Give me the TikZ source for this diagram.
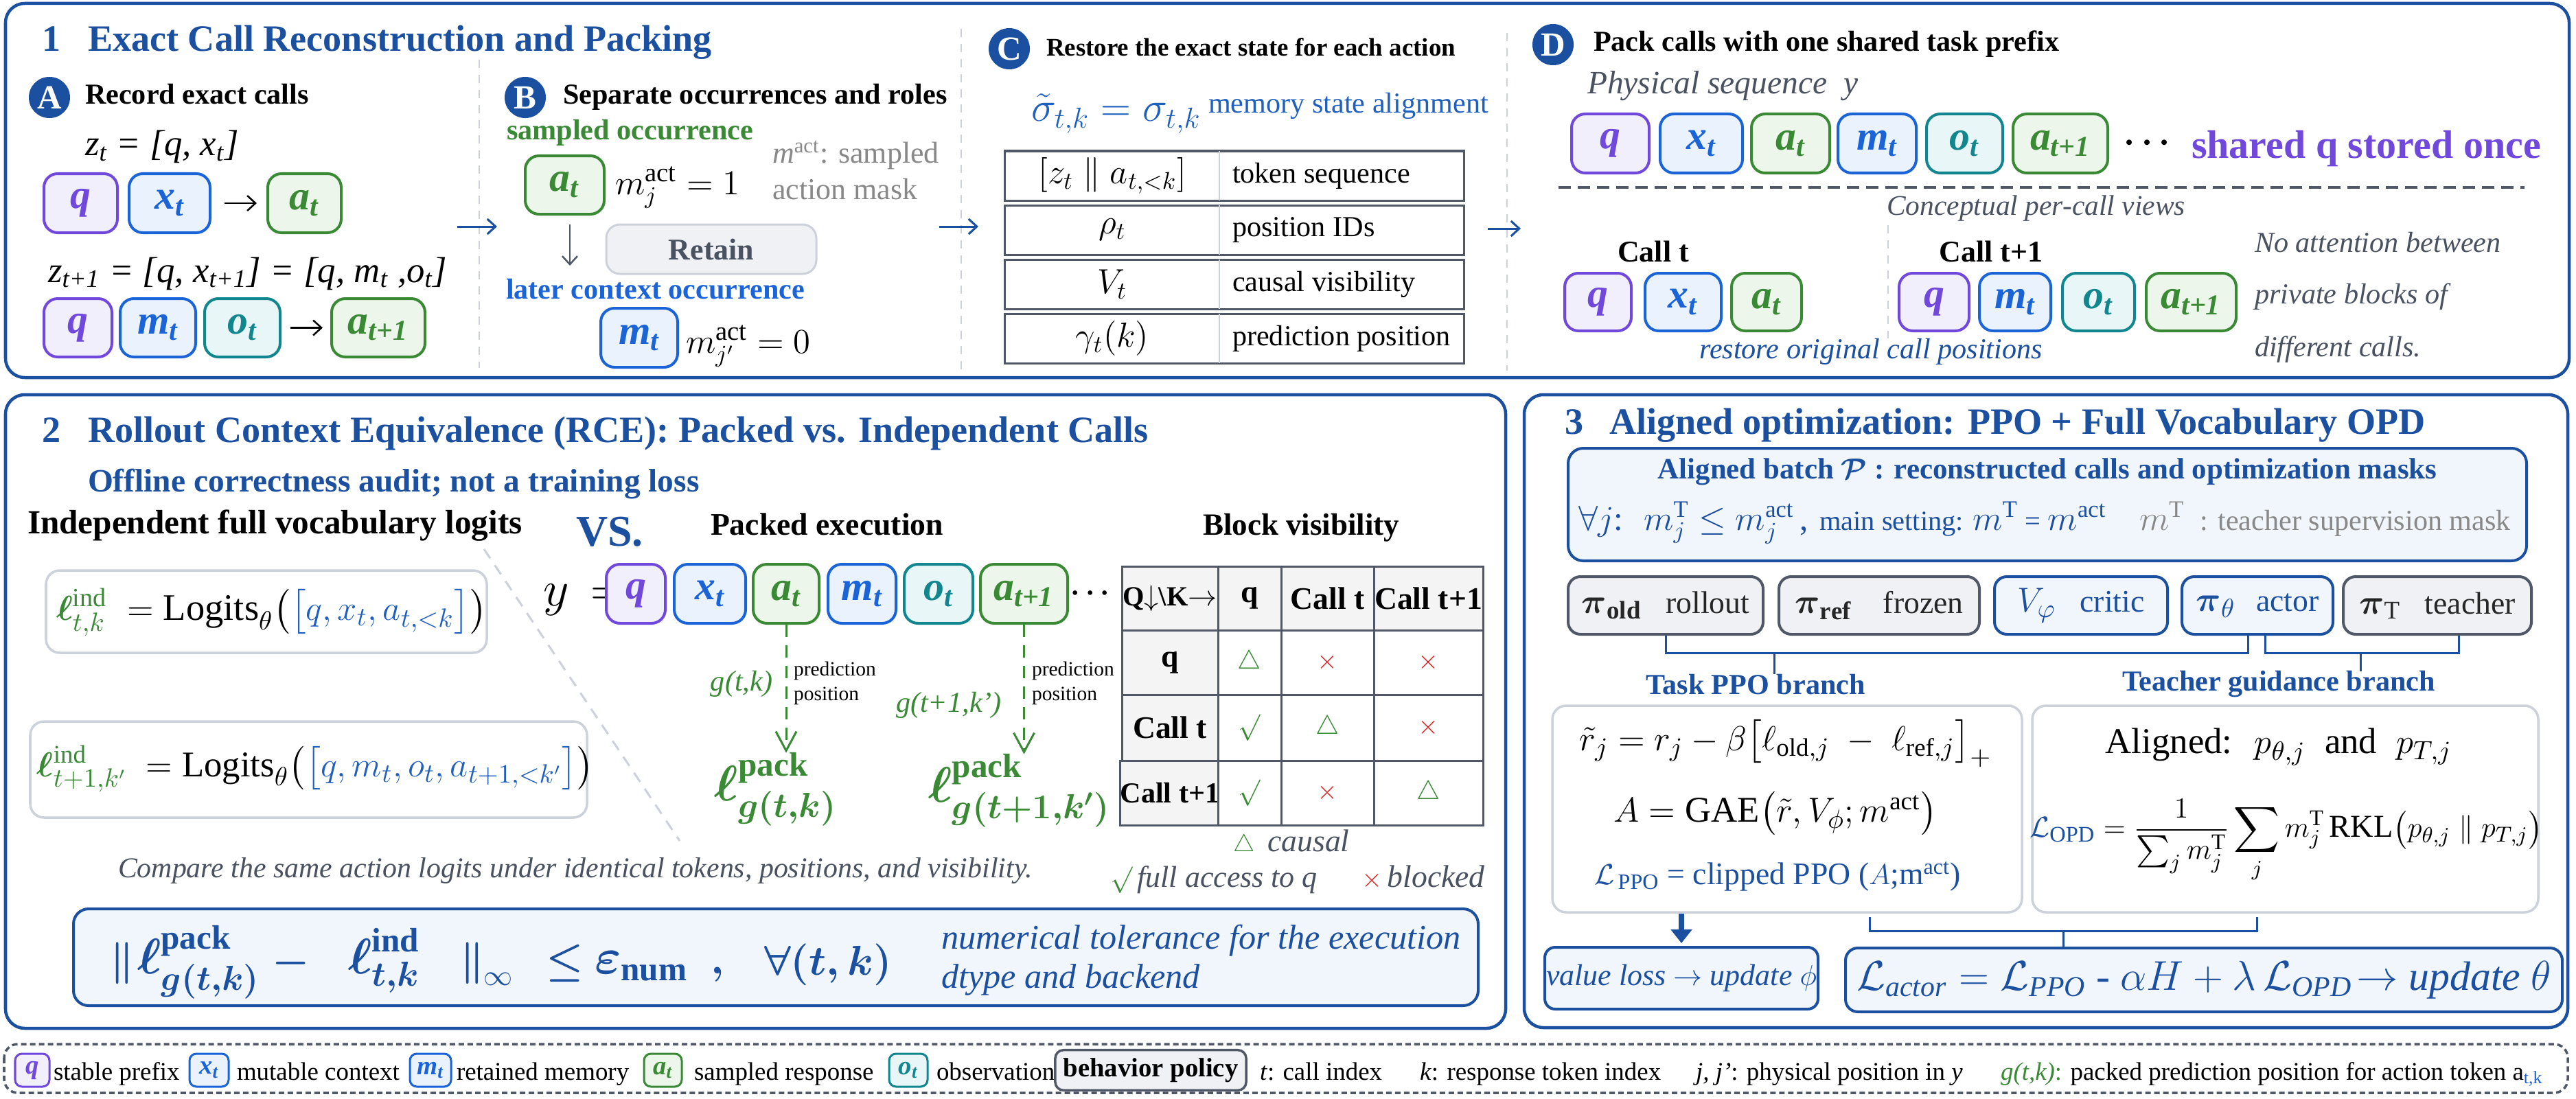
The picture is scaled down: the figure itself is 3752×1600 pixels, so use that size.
\documentclass[tikz,border=0pt]{standalone}
\usepackage{amsmath,amssymb}
\usepackage{fontspec}
\setmainfont{Liberation Serif}
\usetikzlibrary{arrows.meta,calc}
\definecolor{mblue}{RGB}{27,79,160}
\definecolor{cb2}{RGB}{31,95,190}
\definecolor{cq}{RGB}{112,72,220}
\definecolor{cqf}{RGB}{242,239,252}
\definecolor{cx}{RGB}{26,100,216}
\definecolor{cxf}{RGB}{234,242,253}
\definecolor{ca}{RGB}{58,138,53}
\definecolor{caf}{RGB}{237,246,234}
\definecolor{co}{RGB}{18,134,143}
\definecolor{cof}{RGB}{232,246,247}
\definecolor{gtext}{RGB}{74,81,96}
\definecolor{gmid}{RGB}{136,136,136}
\definecolor{lgray}{RGB}{205,210,218}
\definecolor{dgray}{RGB}{80,88,104}
\definecolor{lbluef}{RGB}{241,246,253}
\definecolor{grayf}{RGB}{240,241,244}
\definecolor{hgray}{RGB}{244,244,244}
\definecolor{cred}{RGB}{220,40,40}
\newcommand\fs[1]{\fontsize{#1}{#1}\selectfont}
\newcommand\TB[7][]{\node[#1, minimum width={(#5-#3)*0.01cm}, minimum height={(#6-#4)*0.01cm}] (#2) at ({(#3+#5)/2},{(#4+#6)/2}) {#7};}
\tikzset{
  panel/.style={draw=mblue, line width=0.045cm, rounded corners=0.28cm},
  txt/.style={inner sep=0pt, outer sep=0pt},
  tok/.style={rounded corners=0.2cm, line width=0.04cm, inner sep=0pt, font=\fs{17}\bfseries\itshape},
  tokq/.style={tok, draw=cq, fill=cqf, text=cq},
  tokx/.style={tok, draw=cx, fill=cxf, text=cx},
  toka/.style={tok, draw=ca, fill=caf, text=ca},
  toko/.style={tok, draw=co, fill=cof, text=co},
  circ/.style={circle, fill=mblue, text=white, minimum size=0.6cm, inner sep=0pt, font=\fs{14}\bfseries},
  sepline/.style={draw=lgray, line width=0.025cm, dash pattern=on 0.12cm off 0.1cm},
  bluearr/.style={draw=mblue, line width=0.03cm, -{Straight Barb[length=0.12cm,width=0.22cm]}},
  blkarr/.style={draw=black, line width=0.025cm, -{Straight Barb[length=0.12cm,width=0.22cm]}},
  gryarr/.style={draw=dgray, line width=0.025cm, -{Straight Barb[length=0.12cm,width=0.22cm]}},
  garr/.style={draw=ca, line width=0.03cm, dash pattern=on 0.18cm off 0.12cm, -{Straight Barb[length=0.28cm,width=0.3cm]}},
  rowbox/.style={draw=dgray, line width=0.03cm, inner sep=0pt},
  divl/.style={draw=lgray, line width=0.02cm},
  hcell/.style={draw=dgray, fill=hgray, line width=0.03cm, inner sep=0pt, font=\fs{13}\bfseries},
  cell/.style={draw=dgray, fill=white, line width=0.03cm, inner sep=0pt, font=\fs{11}},
  lbox/.style={draw=lgray, fill=white, line width=0.035cm, rounded corners=0.2cm, inner sep=0pt},
  bbox/.style={draw=mblue, fill=lbluef, line width=0.04cm, rounded corners=0.22cm, inner sep=0pt},
  pgray/.style={draw=dgray, fill=grayf, line width=0.04cm, rounded corners=0.18cm, inner sep=0pt, text=black!85, font=\fs{13}},
  pblue/.style={draw=mblue, fill=lbluef, line width=0.04cm, rounded corners=0.18cm, inner sep=0pt, text=mblue, font=\fs{13}},
  brk/.style={draw=mblue, line width=0.03cm},
  title/.style={txt, anchor=base west, font=\fs{15.4}\bfseries, text=mblue},
  head/.style={txt, anchor=base west, font=\fs{12}\bfseries, text=black},
  lg/.style={txt, anchor=base west, font=\fs{10.5}},
  ltok/.style={font=\fs{11}\bfseries\itshape, rounded corners=0.1cm, line width=0.03cm},
}
\begin{document}
\begin{tikzpicture}[x=0.01cm,y=-0.01cm]
\useasboundingbox (0,0) rectangle (3752,1600);
\fill[white] (0,0) rectangle (3752,1600);

%================ PANEL 1 ================
\draw[panel] (8,5) rectangle (3742,550);
\node[title] (t1n) at (61,75) {1};
\node[title] (t1) at (128,75) {Exact Call Reconstruction and Packing};
\draw[sepline] (698,87) -- (698,536);
\draw[sepline] (1400,42) -- (1400,540);
\draw[sepline] (2195,48) -- (2195,540);
\coordinate (s1a) at (666,330); \coordinate (s1b) at (724,330);
\coordinate (s2a) at (1368,330); \coordinate (s2b) at (1425,330);
\coordinate (s3a) at (2167,333); \coordinate (s3b) at (2215,333);
\draw[bluearr] (s1a) -- (s1b);
\draw[bluearr] (s2a) -- (s2b);
\draw[bluearr] (s3a) -- (s3b);

% --- A
\node[circ] (cA) at (72,142) {A};
\node[head] (hA) at (124,152) {Record exact calls};
\node[txt, anchor=base west, font=\fs{15}\itshape] (zA1) at (124,227) {z\textsubscript{t} = [q, x\textsubscript{t}]};
\TB[tokq]{Aq1}{64}{253}{171}{339}{q}
\TB[tokx]{Ax1}{188}{253}{306}{339}{x\textsubscript{t}}
\TB[toka]{Aa1}{390}{253}{497}{339}{a\textsubscript{t}}
\draw[blkarr, shorten <=0.19cm, shorten >=0.14cm] (Ax1) -- (Aa1);
\node[txt, anchor=base west, font=\fs{15}\itshape] (zA2) at (70,411) {z\textsubscript{t+1} = [q, x\textsubscript{t+1}] = [q, m\textsubscript{t} ,o\textsubscript{t}]};
\TB[tokq]{Aq2}{64}{435}{163}{520}{q}
\TB[tokx]{Am2}{175}{435}{285}{520}{m\textsubscript{t}}
\TB[toko]{Ao2}{298}{435}{408}{520}{o\textsubscript{t}}
\TB[toka]{Aa2}{483}{435}{619}{520}{a\textsubscript{t+1}}
\draw[blkarr, shorten <=0.13cm, shorten >=0.11cm] (Ao2) -- (Aa2);

% --- B
\node[circ] (cB) at (765,142) {B};
\node[head] (hB) at (820,152) {Separate occurrences and roles};
\node[txt, anchor=base west, font=\fs{12}\bfseries, text=ca] (sampB) at (738,203) {sampled occurrence};
\TB[toka]{Ba}{765}{227}{880}{312}{a\textsubscript{t}}
\node[txt, anchor=base west, font=\fs{14}] (mB1) at (896,283) {$m_j^{\hbox{\fs{11}act}} = 1$};
\node[txt, anchor=base west, font=\fs{12.5}, text=gmid] (mactB1) at (1125,238) {\textit{m}\textsuperscript{act}: sampled};
\node[txt, anchor=base west, font=\fs{12.5}, text=gmid] (mactB2) at (1125,290) {action mask};
\coordinate (Bd1) at (830,327); \coordinate (Bd2) at (830,387);
\draw[gryarr] (Bd1) -- (Bd2);
\TB[draw=lgray, fill=grayf, line width=0.03cm, rounded corners=0.2cm, font=\fs{12.5}\bfseries, text=gtext]{Bret}{883}{327}{1189}{399}{Retain}
\node[txt, anchor=base west, font=\fs{12}\bfseries, text=cx] (laterB) at (737,435) {later context occurrence};
\TB[tokx]{Bm}{875}{449}{987}{535}{m\textsubscript{t}}
\node[txt, anchor=base west, font=\fs{14}] (mB2) at (999,514) {$m_{j'}^{\hbox{\fs{11}act}} = 0$};

% --- C
\node[circ] (cC) at (1470,71) {C};
\node[txt, anchor=base west, font=\fs{10.5}\bfseries] (hC) at (1524,82) {Restore the exact state for each action};
\node[txt, anchor=base west, font=\fs{18}, text=cb2] (sigC) at (1502,177) {$\tilde{\sigma}_{t,k} = \sigma_{t,k}$};
\node[txt, anchor=base west, font=\fs{12}, text=cb2] (memC) at (1760,165) {memory state alignment};
\TB[rowbox]{C1}{1463}{220}{2132}{292}{}
\TB[rowbox]{C2}{1463}{299}{2132}{371}{}
\TB[rowbox]{C3}{1463}{378}{2132}{450}{}
\TB[rowbox]{C4}{1463}{457}{2132}{529}{}
\draw[divl] (1776,220) -- (1776,292);
\draw[divl] (1776,299) -- (1776,371);
\draw[divl] (1776,378) -- (1776,450);
\draw[divl] (1776,457) -- (1776,529);
\node[txt, font=\fs{14}] (C1l) at (1620,256) {$\left[z_t \parallel a_{t,<k}\right]$};
\node[txt, font=\fs{14}] (C2l) at (1620,335) {$\rho_t$};
\node[txt, font=\fs{14}] (C3l) at (1620,414) {$V_t$};
\node[txt, font=\fs{14}] (C4l) at (1620,493) {$\gamma_t(k)$};
\node[txt, anchor=west, font=\fs{12}] (C1r) at (1795,256) {token sequence};
\node[txt, anchor=west, font=\fs{12}] (C2r) at (1795,335) {position IDs};
\node[txt, anchor=west, font=\fs{12}] (C3r) at (1795,414) {causal visibility};
\node[txt, anchor=west, font=\fs{12}] (C4r) at (1795,493) {prediction position};

% --- D
\node[circ] (cD) at (2262,65) {D};
\node[head] (hD) at (2321,75) {Pack calls with one shared task prefix};
\node[txt, anchor=base west, font=\fs{13.5}\itshape, text=gtext] (physD) at (2312,137) {Physical sequence~~y};
\TB[tokq]{Dq}{2289}{166}{2402}{252}{q}
\TB[tokx]{Dx}{2418}{166}{2538}{252}{x\textsubscript{t}}
\TB[toka]{Da}{2551}{166}{2665}{252}{a\textsubscript{t}}
\TB[tokx]{Dm}{2677}{166}{2791}{252}{m\textsubscript{t}}
\TB[toko]{Do}{2806}{166}{2917}{252}{o\textsubscript{t}}
\TB[toka]{Da1}{2932}{166}{3070}{252}{a\textsubscript{t+1}}
\node[txt, font=\fs{14}] (Ddots) at (3132,209) {$\boldsymbol{\cdots}$};
\node[txt, anchor=base west, font=\fs{16.5}\bfseries, text=cq] (sharedD) at (3192,230) {shared q stored once};
\coordinate (Dl1) at (2270,273); \coordinate (Dl2) at (3677,273);
\draw[draw=dgray, line width=0.035cm, dash pattern=on 0.18cm off 0.1cm] (Dl1) -- (Dl2);
\node[txt, anchor=base west, font=\fs{11.8}\itshape, text=gtext] (concD) at (2748,313) {Conceptual per-call views};
\draw[sepline] (2750,328) -- (2750,493);
\node[txt, font=\fs{12.5}\bfseries] (callt) at (2408,366) {Call t};
\node[txt, font=\fs{12.5}\bfseries] (callt1) at (2900,366) {Call t+1};
\TB[tokq]{Eq}{2279}{398}{2376}{482}{q}
\TB[tokx]{Ex}{2396}{398}{2507}{482}{x\textsubscript{t}}
\TB[toka]{Ea}{2522}{398}{2624}{482}{a\textsubscript{t}}
\TB[tokq]{Fq}{2766}{398}{2868}{482}{q}
\TB[tokx]{Fm}{2883}{398}{2987}{482}{m\textsubscript{t}}
\TB[toko]{Fo}{3004}{398}{3109}{482}{o\textsubscript{t}}
\TB[toka]{Fa}{3126}{398}{3257}{482}{a\textsubscript{t+1}}
\node[txt, anchor=base, font=\fs{12}\itshape, text=mblue] (restD) at (2725,522) {restore original call positions};
\node[txt, anchor=base west, font=\fs{12}\itshape, text=gtext] (noat1) at (3284,367) {No attention between};
\node[txt, anchor=base west, font=\fs{12}\itshape, text=gtext] (noat2) at (3284,442) {private blocks of};
\node[txt, anchor=base west, font=\fs{12}\itshape, text=gtext] (noat3) at (3284,519) {different calls.};

%================ PANEL 2 ================
\draw[panel] (8,575) rectangle (2193,1498);
\node[title] (t2n) at (61,644) {2};
\node[title] (t2) at (128,644) {Rollout Context Equivalence (RCE): Packed vs. Independent Calls};
\node[txt, anchor=base west, font=\fs{13.5}\bfseries, text=mblue] (offl) at (128,716) {Offline correctness audit; not a training loss};
\node[txt, anchor=base west, font=\fs{14}\bfseries] (indep) at (40,777) {Independent full vocabulary logits};
\node[txt, anchor=base west, font=\fs{18.2}\bfseries, text=mblue] (vs) at (839,795) {VS.};
\node[txt, anchor=base west, font=\fs{13}\bfseries] (packex) at (1035,779) {Packed execution};
\node[txt, anchor=base west, font=\fs{12.8}\bfseries] (blockv) at (1752,779) {Block visibility};
\TB[lbox]{ind1}{67}{831}{709}{951}{}
\node[txt, anchor=west, font=\fs{15.5}] (ind1f) at (82,892) {{\color{ca}$\boldsymbol{\ell}^{\mathrm{ind}}_{t,k}$}\; $=\mathrm{Logits}_{\theta}\bigl({\color{cb2}\bigl[q, x_t, a_{t,<k}\bigr]}\bigr)$};
\TB[lbox]{ind2}{44}{1051}{855}{1191}{}
\node[txt, anchor=west, font=\fs{15}] (ind2f) at (54,1120) {{\color{ca}$\boldsymbol{\ell}^{\mathrm{ind}}_{t+1,k'}$}\; $=\mathrm{Logits}_{\theta}\bigl({\color{cb2}\bigl[q, m_t, o_t, a_{t+1,<k'}\bigr]}\bigr)$};
\coordinate (dg1) at (705,800); \coordinate (dg2) at (990,1225);
\draw[draw=lgray, line width=0.03cm, dash pattern=on 0.16cm off 0.12cm] (dg1) -- (dg2);
\node[txt, anchor=base west, font=\fs{20}] (yeq) at (791,882) {$y\, =$};
\TB[tokq]{Pq}{883}{822}{969}{908}{q}
\TB[tokx]{Px}{982}{822}{1086}{908}{x\textsubscript{t}}
\TB[toka]{Pa}{1097}{822}{1193}{908}{a\textsubscript{t}}
\TB[tokx]{Pm}{1206}{822}{1305}{908}{m\textsubscript{t}}
\TB[toko]{Po}{1317}{822}{1417}{908}{o\textsubscript{t}}
\TB[toka]{Pa1}{1428}{822}{1555}{908}{a\textsubscript{t+1}}
\node[txt, font=\fs{12}] (Pdots) at (1592,864) {$\boldsymbol{\cdots}$};
\node[txt, font=\fs{20}, text=ca] (lp1) at (1130,1150) {$\boldsymbol{\ell}^{\mathbf{pack}}_{\boldsymbol{g(t,k)}}$};
\node[txt, font=\fs{20}, text=ca] (lp2) at (1485,1152) {$\boldsymbol{\ell}^{\mathbf{pack}}_{\boldsymbol{g(t+1,k')}}$};
\draw[garr] (Pa.south) -- (Pa.south |- lp1.north);
\draw[garr] (Pa1.south) -- (Pa1.south |- lp2.north);
\node[txt, anchor=base west, font=\fs{8.4}] (pp1a) at (1156,984) {prediction};
\node[txt, anchor=base west, font=\fs{8.4}] (pp1b) at (1156,1020) {position};
\node[txt, anchor=base west, font=\fs{8.4}] (pp2a) at (1503,984) {prediction};
\node[txt, anchor=base west, font=\fs{8.4}] (pp2b) at (1503,1020) {position};
\node[txt, font=\fs{12}\itshape, text=ca] (g1) at (1080,996) {g(t,k)};
\node[txt, font=\fs{12}\itshape, text=ca] (g2) at (1382,1027) {g(t+1,k')};
% block visibility table
\TB[hcell, font=\fs{11.5}\bfseries]{bv00}{1634}{825}{1774}{918}{Q$\downarrow$\textbackslash K$\rightarrow$}
\TB[hcell]{bv01}{1774}{825}{1866}{918}{q}
\TB[hcell]{bv02}{1866}{825}{2001}{918}{Call t}
\TB[hcell]{bv03}{2001}{825}{2160}{918}{Call t+1}
\TB[hcell]{bv10}{1634}{918}{1774}{1012}{q}
\TB[cell]{bv11}{1774}{918}{1866}{1012}{\color{ca}$\triangle$}
\TB[cell]{bv12}{1866}{918}{2001}{1012}{\color{cred}$\times$}
\TB[cell]{bv13}{2001}{918}{2160}{1012}{\color{cred}$\times$}
\TB[hcell]{bv20}{1634}{1012}{1774}{1108}{Call t}
\TB[cell]{bv21}{1774}{1012}{1866}{1108}{\color{ca}$\surd$}
\TB[cell]{bv22}{1866}{1012}{2001}{1108}{\color{ca}$\triangle$}
\TB[cell]{bv23}{2001}{1012}{2160}{1108}{\color{cred}$\times$}
\TB[hcell, font=\fs{12}\bfseries]{bv30}{1634}{1108}{1774}{1202}{Call t+1}
\TB[cell]{bv31}{1774}{1108}{1866}{1202}{\color{ca}$\surd$}
\TB[cell]{bv32}{1866}{1108}{2001}{1202}{\color{cred}$\times$}
\TB[cell]{bv33}{2001}{1108}{2160}{1202}{\color{ca}$\triangle$}
\node[txt, anchor=base west, font=\fs{13}\itshape, text=gtext] (lgc) at (1796,1240) {{\fs{10}\color{ca}$\triangle$}\, causal};
\node[txt, anchor=base west, font=\fs{12.5}\itshape, text=gtext] (lgf) at (1617,1292) {{\fs{11}\color{ca}$\surd$}\,full access to q};
\node[txt, anchor=base west, font=\fs{13}\itshape, text=gtext] (lgb) at (1983,1292) {{\fs{11}\color{cred}$\times$}\,blocked};
\node[txt, anchor=base west, font=\fs{11.9}\itshape, text=gtext] (cmpr) at (172,1278) {Compare the same action logits under identical tokens, positions, and visibility.};
% bottom formula box
\TB[bbox]{fbox}{107}{1324}{2153}{1465}{}
\node[txt, anchor=base west, font=\fs{18}, text=mblue] (fn1) at (160,1418) {$\boldsymbol{\|}$};
\node[txt, anchor=base west, font=\fs{20}, text=mblue] (fl1) at (200,1418) {$\boldsymbol{\ell}^{\mathbf{pack}}_{\boldsymbol{g(t,k)}}$};
\node[txt, anchor=base west, font=\fs{18}, text=mblue] (fmin) at (396,1418) {$\boldsymbol{-}$};
\node[txt, anchor=base west, font=\fs{20}, text=mblue] (fl2) at (507,1418) {$\boldsymbol{\ell}^{\mathbf{ind}}_{\boldsymbol{t,k}}$};
\node[txt, anchor=base west, font=\fs{18}, text=mblue] (fn2) at (670,1418) {$\boldsymbol{\|}_{\infty}$};
\node[txt, anchor=base west, font=\fs{18}, text=mblue] (fle) at (795,1418) {$\boldsymbol{\leq}$};
\node[txt, anchor=base west, font=\fs{20}, text=mblue] (feps) at (866,1418) {$\boldsymbol{\varepsilon}_{\mathbf{num}}$};
\node[txt, anchor=base west, font=\fs{18}, text=mblue] (fcom) at (1035,1418) {$\boldsymbol{,}$};
\node[txt, anchor=base west, font=\fs{18}, text=mblue] (fall) at (1113,1420) {$\boldsymbol{\forall(t,k)}$};
\node[txt, anchor=base west, font=\fs{14.3}\itshape, text=mblue] (tol1) at (1371,1382) {numerical tolerance for the execution};
\node[txt, anchor=base west, font=\fs{14.3}\itshape, text=mblue] (tol2) at (1371,1439) {dtype and backend};

%================ PANEL 3 ================
\draw[panel] (2220,575) rectangle (3740,1497);
\node[title] (t3n) at (2279,632) {3};
\node[title] (t3) at (2344,632) {Aligned optimization: PPO + Full Vocabulary OPD};
\TB[bbox]{abatch}{2284}{653}{3680}{817}{}
\node[txt, anchor=base, font=\fs{12.2}\bfseries, text=mblue] (abt) at (2982,697) {Aligned batch $\boldsymbol{\mathcal{P}}$ : reconstructed calls and optimization masks};
\node[txt, anchor=base west, font=\fs{14}, text=mblue] (ab1) at (2299,772) {$\forall j$:\; $m_j^{\mathrm{T}} \le m_j^{\mathrm{act}}$\,,};
\node[txt, anchor=base west, font=\fs{11.5}, text=mblue] (ab2) at (2650,772) {main setting: {\fs{14}$m^{\mathrm{T}}$} = {\fs{14}$m^{\mathrm{act}}$}};
\node[txt, anchor=base west, font=\fs{12}, text=gmid] (ab3) at (3116,772) {{\fs{14}$m^{\mathrm{T}}$}\; : teacher supervision mask};
\TB[pgray]{P1}{2284}{840}{2568}{924}{{\fs{15}$\boldsymbol{\pi}_{\mathbf{old}}$}\hspace{0.35cm}rollout}
\TB[pgray]{P2}{2591}{840}{2883}{924}{{\fs{15}$\boldsymbol{\pi}_{\mathbf{ref}}$}\hspace{0.45cm}frozen}
\TB[pblue]{P3}{2905}{840}{3157}{924}{{\fs{15}$V_{\varphi}$}\hspace{0.35cm}critic}
\TB[pblue]{P4}{3178}{840}{3398}{924}{{\fs{15}$\boldsymbol{\pi}_{\theta}$}\hspace{0.3cm}actor}
\TB[pgray]{P5}{3413}{840}{3687}{924}{{\fs{15}$\boldsymbol{\pi}_{\mathrm{T}}$}\hspace{0.35cm}teacher}
\node[txt, font=\fs{12}\bfseries, text=mblue] (tPPO) at (2557,997) {Task PPO branch};
\node[txt, font=\fs{12}\bfseries, text=mblue] (tTeach) at (3319,997) {Teacher guidance branch};
\coordinate (bkA) at (2584,951);
\coordinate (bkB) at (3438,951);
\draw[brk] (P1.south) |- (bkA) -| ([xshift=-0.14cm]P4.south);
\draw[brk] (bkA) -- (bkA |- tPPO.north);
\draw[brk] ([xshift=0.11cm]P4.south) |- (bkB) -| ([xshift=0.31cm]P5.south);
\draw[brk] (bkB) -- (bkB |- tTeach.north);
\TB[lbox]{TaskBox}{2261}{1028}{2945}{1329}{}
\TB[lbox]{TeachBox}{2960}{1028}{3697}{1329}{}
\node[txt, font=\fs{15}] (F1) at (2601,1083) {$\tilde r_j = r_j - \beta\bigl[\ell_{\mathrm{old},j} \;-\; \ell_{\mathrm{ref},j}\bigr]_+$};
\node[txt, font=\fs{15}] (F2) at (2586,1185) {$A = \mathrm{GAE}\bigl(\tilde r, V_\phi; m^{\mathrm{act}}\bigr)$};
\node[txt, font=\fs{13}, text=mblue] (F3) at (2589,1277) {$\mathcal{L}_{\,\mathrm{PPO}}$ = clipped PPO ($A$;m$^{\mathrm{act}}$)};
\node[txt, font=\fs{15}] (F4) at (3319,1088) {Aligned:\; $p_{\theta,j}$\; and\; $p_{T,j}$};
\node[txt, font=\fs{13.2}] (F5) at (3330,1225) {${\color{mblue}\mathcal{L}_{\mathrm{OPD}}} = \dfrac{1}{\sum_j m_j^{\mathrm{T}}} \displaystyle\sum_j m_j^{\mathrm{T}}\,\mathrm{RKL}\bigl(p_{\theta,j}\parallel p_{T,j}\bigr)$};
\TB[bbox, rounded corners=0.15cm]{VBox}{2250}{1380}{2648}{1470}{}
\node[txt, font=\fs{12.5}, text=mblue] (VBt) at (VBox.center) {\textit{value loss} $\rightarrow$ \textit{update} $\phi$};
\TB[bbox, rounded corners=0.18cm]{ABox}{2688}{1381}{3732}{1474}{}
\node[txt, font=\fs{17}, text=mblue] (ABt) at (ABox.center) {$\mathcal{L}_{\mathit{actor}} = \mathcal{L}_{\mathit{PPO}}$ - $\alpha H + \lambda\,\mathcal{L}_{\mathit{OPD}}\!\rightarrow$ \textit{update} $\theta$};
\draw[draw=mblue, line width=0.08cm, -{Triangle[length=0.2cm,width=0.3cm]}, shorten >=0.04cm] (TaskBox.south -| VBox.north) -- (VBox.north);
\coordinate (bkC1) at (2723,1336);
\coordinate (bkC) at (3005,1356);
\coordinate (bkC2) at (3287,1336);
\draw[brk] (bkC1) |- (bkC) -| (bkC2);
\draw[brk] (bkC) -- (bkC |- ABox.north);

%================ LEGEND ================
\draw[draw=dgray, line width=0.035cm, dash pattern=on 0.08cm off 0.05cm, rounded corners=0.2cm] (6,1521) rectangle (3740,1592);
\TB[tokq, ltok]{Lq}{22}{1535}{72}{1583}{q}
\node[lg] (Lqt) at (78,1573) {stable prefix};
\TB[tokx, ltok]{Lx}{276}{1535}{333}{1583}{x\textsubscript{t}}
\node[lg] (Lxt) at (345,1573) {mutable context};
\TB[tokx, ltok]{Lm}{597}{1535}{657}{1583}{m\textsubscript{t}}
\node[lg] (Lmt) at (665,1573) {retained memory};
\TB[toka, ltok]{La}{938}{1535}{993}{1583}{a\textsubscript{t}}
\node[lg] (Lat) at (1011,1573) {sampled response};
\TB[toko, ltok]{Lo}{1295}{1535}{1351}{1583}{o\textsubscript{t}}
\node[lg] (Lot) at (1364,1573) {observation};
\TB[draw=dgray, fill=grayf, line width=0.035cm, rounded corners=0.12cm, font=\fs{11}\bfseries]{Lbp}{1559}{1535}{1793}{1583}{behavior policy}
\node[lg] (Lt) at (1835,1573) {\textit{t}: call index};
\node[lg] (Lk) at (2068,1573) {\textit{k}: response token index};
\node[lg] (Lj) at (2470,1573) {\textit{j, j'}: physical position in \textit{y}};
\node[lg] (Lg) at (2914,1573) {{\color{ca}\textit{g(t,k)}:} packed prediction position for action token a\textsubscript{\color{cx}t,k}};
\end{tikzpicture}
\end{document}
